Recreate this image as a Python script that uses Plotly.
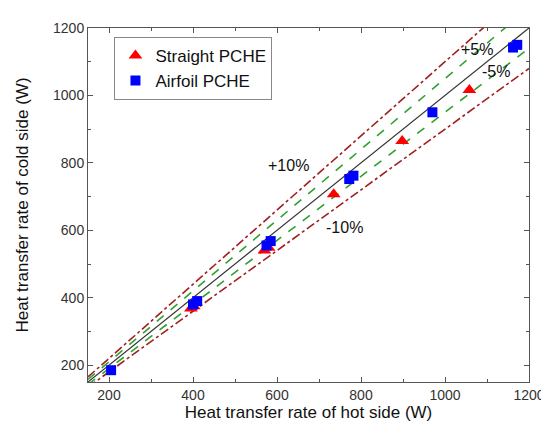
import plotly.graph_objects as go

# data
straight_hot = [395, 402, 570, 580, 735, 898, 1058]
straight_cold = [368, 375, 540, 548, 707, 865, 1016]
airfoil_hot = [205, 400, 410, 575, 585, 772, 782, 970, 1162, 1172]
airfoil_cold = [185, 380, 390, 555, 568, 752, 762, 950, 1142, 1150]
ref_x = [150, 1200]
band_labels = ["+10%", "+5%", "-5%", "-10%"]
band_pos = [(627, 792), (1077, 1135), (1121, 1071), (760, 607)]

FONT = "Arial, Liberation Sans, sans-serif"

fig = go.Figure()

def band(f, color, dash):
    fig.add_trace(go.Scatter(x=ref_x, y=[v * f for v in ref_x], mode="lines",
                             line=dict(color=color, width=1.6, dash=dash),
                             showlegend=False, hoverinfo="skip"))

band(1.10, "#a02020", "dashdot")
band(0.90, "#a02020", "dashdot")
band(1.05, "#30a030", "dash")
band(0.95, "#30a030", "dash")
fig.add_trace(go.Scatter(x=ref_x, y=ref_x, mode="lines",
                         line=dict(color="#333333", width=1.2),
                         showlegend=False, hoverinfo="skip"))

fig.add_trace(go.Scatter(x=straight_hot, y=straight_cold, mode="markers",
                         name="Straight PCHE",
                         marker=dict(symbol="triangle-up", size=12, color="#ff0000")))
fig.add_trace(go.Scatter(x=airfoil_hot, y=airfoil_cold, mode="markers",
                         name="Airfoil PCHE",
                         marker=dict(symbol="square", size=10, color="#0000ff")))

for lab, (ax, ay) in zip(band_labels, band_pos):
    fig.add_annotation(x=ax, y=ay, text=lab, showarrow=False,
                       font=dict(family=FONT, size=16, color="#111111"))

axis_common = dict(
    showgrid=False, zeroline=False, showline=True, linecolor="#555555", linewidth=1,
    mirror="ticks", ticks="inside", ticklen=5, tickcolor="#555555",
    tickfont=dict(family=FONT, size=14, color="#333333"),
    dtick=200, tick0=0,
    minor=dict(ticks="inside", ticklen=3, dtick=100, tickcolor="#555555"),
)

fig.update_xaxes(range=[150, 1200],
                 title=dict(text="Heat transfer rate of hot side (W)",
                            font=dict(family=FONT, size=17, color="#111111"),
                            standoff=4),
                 **axis_common)
fig.update_yaxes(range=[150, 1200],
                 title=dict(text="Heat transfer rate of cold side (W)",
                            font=dict(family=FONT, size=17, color="#111111"),
                            standoff=20),
                 **axis_common)

fig.update_layout(
    width=549, height=424,
    margin=dict(l=80, r=24, t=16, b=50),
    plot_bgcolor="white", paper_bgcolor="white",
    legend=dict(x=0.06, y=0.975, xanchor="left", yanchor="top",
                bgcolor="white", bordercolor="#888888", borderwidth=1,
                font=dict(family=FONT, size=17, color="#111111"),
                itemwidth=30, tracegroupgap=0),
)

fig.write_html("out.html")
